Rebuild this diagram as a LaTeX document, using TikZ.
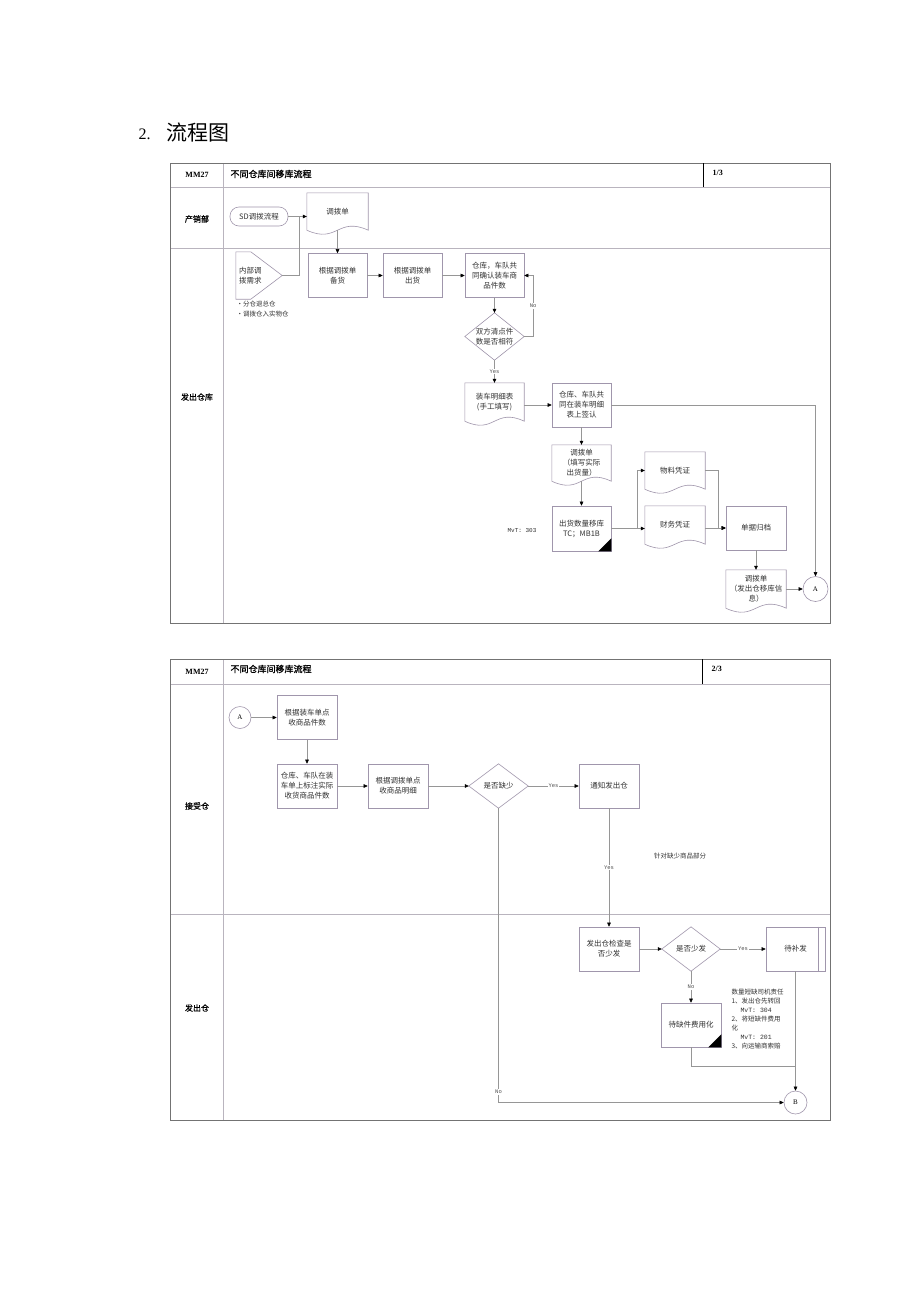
\documentclass[tikz,border=0pt]{standalone}
\usepackage{fontspec}
\setmainfont{Noto Sans CJK SC}
\newfontfamily\serifl{Liberation Serif}
\newfontfamily\monof{Liberation Mono}
\newfontfamily\cjkb[FakeBold=1.2]{Noto Sans CJK SC}
\usetikzlibrary{arrows.meta,calc}
\definecolor{boxc}{RGB}{160,150,172}
\definecolor{linec}{RGB}{150,150,150}
\definecolor{framec}{RGB}{115,115,115}
\definecolor{lanec}{RGB}{185,180,190}
\definecolor{txtc}{RGB}{50,50,50}
\tikzset{
 pbox/.style={draw=boxc, line width=0.6pt, minimum width=59pt, minimum height=44pt, align=center, font=\fontsize{7.5}{10}\selectfont, inner sep=1pt, text=txtc},
 bare/.style={draw=none, minimum width=59pt, minimum height=44pt, align=center, font=\fontsize{7.5}{10}\selectfont, inner sep=0pt, text=txtc},
 conn/.style={draw=linec, line width=0.5pt},
 arr/.style={conn, -{Triangle[length=4pt,width=3.6pt,color=black]}},
 lbl/.style={font=\monof\fontsize{5.5}{6}\selectfont, fill=white, inner sep=0.8pt, text=black!70},
 lanelab/.style={font=\cjkb\fontsize{8}{10}\selectfont},
 circ/.style={circle, draw=boxc, line width=0.6pt, minimum size=23pt, inner sep=0pt, font=\serifl\fontsize{7}{8}\selectfont},
 hdr/.style={font=\serifl\bfseries\fontsize{8}{9}\selectfont},
 htitle/.style={anchor=west, font=\cjkb\fontsize{9}{10}\selectfont},
 framel/.style={draw=framec, line width=0.6pt},
 lanel/.style={draw=lanec, line width=0.5pt},
 notetxt/.style={font=\fontsize{6.5}{9}\selectfont, text=txtc},
}
\newcommand{\docwave}[1]{\draw[draw=boxc, line width=0.6pt] (#1.south west) -- (#1.north west) -- (#1.north east) -- (#1.south east) .. controls ($(#1.south)+(0,-14)$) and ($(#1.south)+(0,14)$) .. (#1.south west);}
\newcommand{\mydiam}[1]{\draw[draw=boxc, line width=0.6pt] (#1.north) -- (#1.east) -- (#1.south) -- (#1.west) -- cycle;}
\newcommand{\blkcorner}[1]{\fill[black] (#1.south east) -- ($(#1.south east)+(-13,0)$) -- ($(#1.south east)+(0,-13)$) -- cycle;}
\begin{document}
\begin{tikzpicture}[x=1pt,y=-1pt]
\useasboundingbox (0,0) rectangle (920,1301);
\fill[white] (0,0) rectangle (920,1301);

% title
\node[anchor=west, font=\serifl\fontsize{16}{18}\selectfont] (t2) at (135,134) {2.};
\node[anchor=west, font=\fontsize{21}{24}\selectfont] (t3) at (163,133) {流程图};

% ---------- panel 1 ----------
\draw[lanel] (170,187) -- (830,187);
\draw[lanel] (223,163) -- (223,623);
\draw[lanel] (170,248) -- (830,248);
\draw[framel] (170,163) rectangle (830,623);
\draw[black, line width=0.6pt] (703,163) -- (703,187);
\node[hdr] (h1a) at (197,175) {MM27};
\node[htitle] (h1b) at (227,174) {不同仓库间移库流程};
\node[hdr, anchor=west] (h1c) at (709,173) {1/3};
\node[lanelab] (l1) at (197,219) {产销部};
\node[lanelab] (l2) at (197,397) {发出仓库};

\node[pbox, rounded corners=9pt, minimum width=58pt, minimum height=19pt] (sd) at (259,216.5) {SD调拨流程};
\node[bare, minimum width=61pt, minimum height=37pt] (tb1) at (337.5,211.5) {调拨单}; \docwave{tb1}
\node[bare, minimum width=46pt, minimum height=47pt, text width=40pt, align=left] (req) at (259,275.5) {内部调\\拨需求};
\draw[draw=boxc, line width=0.6pt] (req.north west) -- ++(15,0) -- (req.east) -- ($(req.south west)+(15,0)$) -- (req.south west) -- cycle;
\node[anchor=west, notetxt] (n1) at (233,304) {•分仓退总仓};
\node[anchor=west, notetxt] (n2) at (233,314) {•调拨仓入实物仓};

\node[pbox] (prep) at (337.5,275.5) {根据调拨单\\备货};
\node[pbox] (ship) at (412.5,275.5) {根据调拨单\\出货};
\node[pbox] (conf) at (494.5,275.5) {仓库，车队共\\同确认装车商\\品件数};
\node[bare, minimum height=47pt] (chk1) at (494.5,336.5) {双方清点件\\数是否相符}; \mydiam{chk1}
\node[bare, minimum height=38pt] (load) at (494.5,402) {装车明细表\\(手工填写)}; \docwave{load}
\node[pbox] (sign) at (581.5,405) {仓库、车队共\\同在装车明细\\表上签认};
\node[bare, minimum height=36pt] (tb2) at (581.5,463) {调拨单\\（填写实际\\出货量）}; \docwave{tb2}
\node[pbox, minimum height=45pt] (move) at (581.5,528.5) {出货数量移库\\TC；MB1B}; \blkcorner{move}
\node[font=\monof\fontsize{6}{7}\selectfont, text=txtc] (mvt1) at (522,531) {MvT: 303};
\node[bare, minimum width=60pt, minimum height=37pt] (mat) at (675,470.5) {物料凭证}; \docwave{mat}
\node[bare, minimum width=60pt, minimum height=38pt] (fin) at (675,525) {财务凭证}; \docwave{fin}
\node[pbox, minimum width=60pt] (arch) at (756,528) {单据归档};
\node[bare, minimum width=60pt, minimum height=38pt] (tb3) at (756,589) {调拨单\\（发出仓移库信\\息）}; \docwave{tb3}
\node[circ, minimum size=25pt] (A1) at (815.5,589) {A};

\coordinate (j1) at (299.5,216.5);
\draw[conn] (req.east) -| (j1);
\draw[arr] (sd.east) -- (sd.east -| tb1.west);
\draw[arr] (tb1.south) -- (prep.north);
\draw[arr] (prep.east) -- (ship.west);
\draw[arr] (ship.east) -- (conf.west);
\draw[arr] (conf.south) -- (chk1.north);
\draw[arr] (chk1.east) -- ++(9,0) |- node[pos=0.25, lbl]{No} (conf.east);
\draw[arr] (chk1.south) -- node[lbl]{Yes} (load.north);
\draw[arr] (load.east |- sign.west) -- (sign.west);
\draw[arr] (sign.south) -- (tb2.north);
\draw[arr] (tb2.south) -- (move.north);
\draw[arr] (move.east) -- ++(26,0) |- (mat.west);
\draw[arr] (move.east) -- (move.east -| fin.west);
\draw[arr] (mat.east) -- ++(13,0) |- (arch.west);
\draw[arr] (fin.east |- arch.west) -- (arch.west);
\draw[arr] (arch.south) -- (tb3.north);
\draw[arr] (tb3.east) -- (A1.west);
\draw[arr] (sign.east) -| (A1.north);

% ---------- panel 2 ----------
\draw[lanel] (170,684) -- (830,684);
\draw[lanel] (223,659) -- (223,1120);
\draw[lanel] (170,914) -- (830,914);
\draw[framel] (170,659) rectangle (830,1120);
\draw[black, line width=0.6pt] (702,659) -- (702,684);
\node[hdr] (h2a) at (197,672) {MM27};
\node[htitle] (h2b) at (227,669) {不同仓库间移库流程};
\node[hdr, anchor=west] (h2c) at (708,669) {2/3};
\node[lanelab] (l3) at (197,806) {接受仓};
\node[lanelab] (l4) at (197,1008) {发出仓};

\node[circ, minimum size=22pt] (A2) at (240,717.5) {A};
\node[pbox, minimum width=60pt] (rc1) at (307,717.5) {根据装车单点\\收商品件数};
\node[pbox, minimum width=60pt] (rc2) at (307,786) {仓库、车队在装\\车单上标注实际\\收货商品件数};
\node[pbox, minimum width=60pt] (rc3) at (398,786) {根据调拨单点\\收商品明细};
\node[bare, minimum height=44pt] (sht) at (498.5,786) {是否缺少}; \mydiam{sht}
\node[pbox, minimum width=60pt] (ntf) at (609,786) {通知发出仓};
\node[pbox, minimum width=60pt] (chk2) at (609,949) {发出仓检查是\\否少发};
\node[bare, minimum width=58pt, minimum height=44pt] (les) at (691,949) {是否少发}; \mydiam{les}
\node[pbox] (wt) at (795.5,949) {待补发};
\draw[draw=boxc, line width=0.6pt] ($(wt.north east)+(-7,0)$) -- ($(wt.south east)+(-7,0)$);
\node[pbox, minimum width=60pt] (exp) at (691,1025) {待缺件费用化}; \blkcorner{exp}
\node[circ] (B) at (795.5,1102.5) {B};
\node[notetxt] (cmt) at (680,856) {针对缺少商品部分};
\node[anchor=north west, align=left, notetxt] (note) at (728,985) {数量短缺司机责任\\1、发出仓先转回\\\hspace*{9pt}{\monof MvT: 304}\\2、将短缺件费用\\化\\\hspace*{9pt}{\monof MvT: 201}\\3、向运输商索赔};

\draw[arr] (A2.east) -- (rc1.west);
\draw[arr] (rc1.south) -- (rc2.north);
\draw[arr] (rc2.east) -- (rc3.west);
\draw[arr] (rc3.east) -- (sht.west);
\draw[arr] (sht.east) -- node[lbl]{Yes} (ntf.west);
\draw[arr] (ntf.south) -- node[lbl]{Yes} (chk2.north);
\draw[arr] (sht.south) |- node[pos=0.482, lbl]{No} (B.west);
\draw[arr] (chk2.east) -- (les.west);
\draw[arr] (les.east) -- node[lbl]{Yes} (wt.west);
\draw[arr] (les.south) -- node[lbl]{No} (exp.north);
\coordinate (j2) at (795.5,1066);
\draw[conn] (exp.south) |- (j2);
\draw[arr] (wt.south) -- (B.north);
\end{tikzpicture}
\end{document}
